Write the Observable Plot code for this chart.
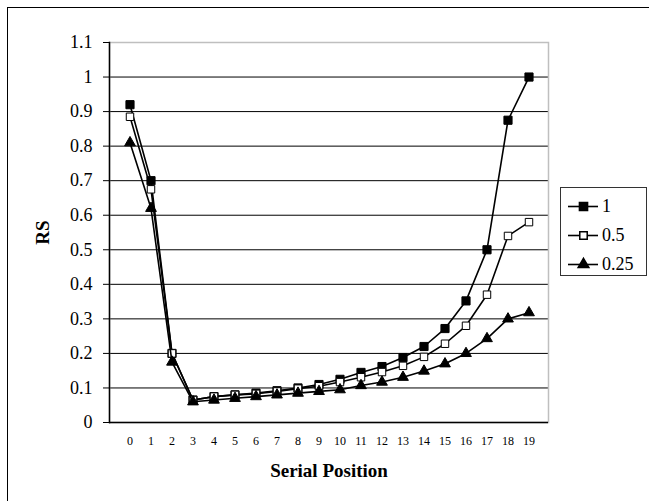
<!DOCTYPE html>
<html><head><meta charset="utf-8">
<script src="https://cdn.jsdelivr.net/npm/d3@7"></script>
<script src="https://cdn.jsdelivr.net/npm/@observablehq/plot@0.6"></script>
<style>
body{margin:0;background:#fff}
#wrap{position:relative;width:649px;height:501px;overflow:hidden;font-family:"Liberation Serif","Times New Roman",serif;background:#fff}
#border{position:absolute;left:7px;top:7px;width:700px;height:600px;border:1px solid #000}
#chart{position:absolute;left:0;top:0}
#legend{position:absolute;left:560px;top:187px;width:85px;height:87px;border:1px solid #333;background:#fff}
#legend .row{position:absolute;left:6px;height:20px;display:flex;align-items:center}
#legend .row span{font-size:18px;margin-left:3px;color:#000}
g[aria-label="x-axis label"] text, g[aria-label="y-axis label"] text{font-size:19px;font-weight:bold}
</style></head><body>
<div id="wrap"><div id="border"></div><div id="chart"></div><div id="legend"></div></div>
<script>
const positions = [0,1,2,3,4,5,6,7,8,9,10,11,12,13,14,15,16,17,18,19];
const seriesNames = ["1", "0.5", "0.25"];
const s1   = [0.92,0.70,0.20,0.065,0.075,0.08,0.085,0.092,0.10,0.11,0.125,0.145,0.162,0.188,0.22,0.272,0.352,0.50,0.875,1.0];
const s05  = [0.885,0.675,0.20,0.065,0.075,0.08,0.083,0.09,0.098,0.105,0.117,0.131,0.146,0.164,0.19,0.228,0.28,0.37,0.54,0.58];
const s025 = [0.81,0.62,0.175,0.06,0.065,0.07,0.075,0.08,0.085,0.09,0.095,0.107,0.117,0.131,0.149,0.17,0.20,0.243,0.30,0.318];
const yTicks = [0,0.1,0.2,0.3,0.4,0.5,0.6,0.7,0.8,0.9,1,1.1];
const gridTicks = [0.1,0.2,0.3,0.4,0.5,0.6,0.7,0.8,0.9,1];

const seriesValues = [s1, s05, s025];
const symbols = ["square", "square", "triangle"];
const fills = ["black", "white", "black"];
const radii = [4.6, 4.2, 4.0];

const data = seriesNames.map((name, i) => positions.map((p, j) => ({pos: p, value: seriesValues[i][j], series: name})));

const marks = [
  Plot.gridY(gridTicks, {stroke: "black", strokeOpacity: 1, strokeWidth: 1}),
  Plot.frame({stroke: "#bfbfbf", strokeWidth: 1.5}),
  Plot.ruleY([0], {stroke: "black", strokeWidth: 1.5}),
  Plot.frame({anchor: "left", stroke: "black", strokeWidth: 1.5}),
  Plot.axisY(yTicks, {tickSize: 6, tickPadding: 11, fontSize: 18, tickFormat: d3.format("~g"), label: "RS", labelAnchor: "center", labelOffset: 74, labelArrow: "none"}),
  Plot.axisX({tickSize: 0, tickPadding: 14, fontSize: 12, label: "Serial Position", labelAnchor: "center", labelOffset: 54, labelArrow: "none"})
];
data.forEach((d, i) => {
  marks.push(Plot.line(d, {x: "pos", y: "value", stroke: "black", strokeWidth: 1.6}));
  marks.push(Plot.dot(d, {x: "pos", y: "value", symbol: symbols[i], r: radii[i], fill: fills[i], stroke: "black", strokeWidth: 1}));
});

const chart = Plot.plot({
  width: 649, height: 501,
  marginLeft: 109, marginRight: 101, marginTop: 42, marginBottom: 79,
  style: {fontFamily: "Liberation Serif, Times New Roman, serif", background: "transparent", color: "black"},
  x: {type: "band", domain: positions, padding: 0},
  y: {domain: [0, 1.1]},
  marks
});
document.getElementById("chart").appendChild(chart);

// legend
const legend = document.getElementById("legend");
const rowTops = [8, 37, 66];
seriesNames.forEach((name, i) => {
  const row = document.createElement("div");
  row.className = "row";
  row.style.top = rowTops[i] + "px";
  const sym = Plot.plot({
    width: 32, height: 20, margin: 0,
    x: {domain: [0, 1], range: [1, 31], axis: null},
    y: {domain: [0, 1], range: [20, 0], axis: null},
    style: {background: "transparent"},
    marks: [
      Plot.ruleY([0.5], {x1: 0, x2: 1, stroke: "black", strokeWidth: 1.6}),
      Plot.dot([0.5], {x: d => d, y: 0.5, symbol: symbols[i], r: radii[i], fill: fills[i], stroke: "black"})
    ]
  });
  row.appendChild(sym);
  const label = document.createElement("span");
  label.textContent = name;
  row.appendChild(label);
  legend.appendChild(row);
});
</script>
</body></html>
